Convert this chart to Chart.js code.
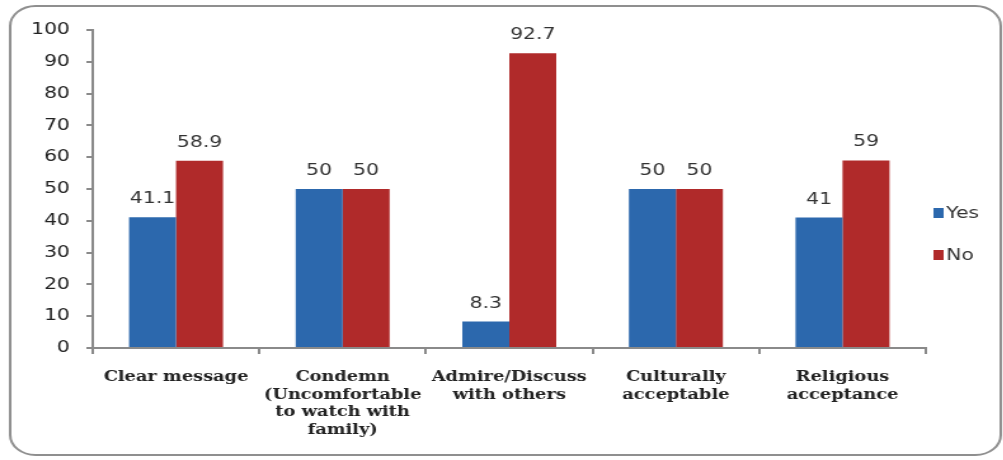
<!DOCTYPE html>
<html>
<head>
<meta charset="utf-8">
<script src="https://cdn.jsdelivr.net/npm/chart.js@4/dist/chart.umd.min.js"></script>
<style>
  html, body { margin: 0; padding: 0; background: #ffffff; }
  #wrap { width: 790px; height: 460px; transform: scaleX(1.27); transform-origin: 0 0; }
  canvas { display: block; }
</style>
</head>
<body>
<div id="wrap"><canvas id="chart" width="790" height="460"></canvas></div>
<script>
// Survey responses (percent) per statement
const categories = [
  'Clear message',
  ['Condemn', '(Uncomfortable', 'to watch with', 'family)'],
  ['Admire/Discuss', 'with others'],
  ['Culturally', 'acceptable'],
  ['Religious', 'acceptance']
];
const seriesNames = ['Yes', 'No'];
const yesValues = [41.1, 50, 8.3, 50, 41];
const noValues = [58.9, 50, 92.7, 50, 59];
const yTicks = [0, 10, 20, 30, 40, 50, 60, 70, 80, 90, 100];

const BLUE = '#2c68ad';
const RED = '#b02a2a';
const AXIS = '#8a8a8a';

// Rounded frame around the whole chart
const framePlugin = {
  id: 'frame',
  beforeDraw(chart) {
    const ctx = chart.ctx;
    ctx.save();
    ctx.fillStyle = '#ffffff';
    ctx.fillRect(0, 0, chart.width, chart.height);
    ctx.strokeStyle = '#8f8f8f';
    ctx.lineWidth = 2;
    ctx.beginPath();
    ctx.roundRect(8, 6, 780, 449, 20);
    ctx.stroke();
    ctx.restore();
  }
};

// Value labels above each bar
const valueLabels = {
  id: 'valueLabels',
  afterDatasetsDraw(chart) {
    const ctx = chart.ctx;
    ctx.save();
    ctx.font = '16px "DejaVu Sans"';
    ctx.fillStyle = '#333333';
    ctx.textAlign = 'center';
    ctx.textBaseline = 'alphabetic';
    chart.data.datasets.forEach((ds, i) => {
      chart.getDatasetMeta(i).data.forEach((bar, j) => {
        ctx.fillText(String(ds.data[j]), bar.x, bar.y - 14);
      });
    });
    ctx.restore();
  }
};

// Legend to the right of the plot
const sideLegend = {
  id: 'sideLegend',
  afterDraw(chart) {
    const ctx = chart.ctx;
    const rows = [213, 255];
    ctx.save();
    ctx.font = '16px "DejaVu Sans"';
    ctx.textBaseline = 'middle';
    ctx.textAlign = 'left';
    chart.data.datasets.forEach((ds, i) => {
      const y = rows[i];
      ctx.fillStyle = ds.backgroundColor;
      ctx.fillRect(735, y - 5, 8, 10);
      ctx.fillStyle = '#333333';
      ctx.fillText(ds.label, 745, y + 1);
    });
    ctx.restore();
  }
};

new Chart(document.getElementById('chart'), {
  type: 'bar',
  data: {
    labels: categories,
    datasets: [
      { label: seriesNames[0], data: yesValues, backgroundColor: BLUE },
      { label: seriesNames[1], data: noValues, backgroundColor: RED }
    ]
  },
  options: {
    responsive: false,
    animation: false,
    devicePixelRatio: 1,
    layout: { padding: { left: 0, right: 61, top: 30, bottom: 0 } },
    datasets: { bar: { barPercentage: 1, categoryPercentage: 0.564 } },
    plugins: { legend: { display: false }, tooltip: { enabled: false } },
    scales: {
      x: {
        afterFit(scale) { scale.height = 112; },
        border: { color: AXIS, width: 2 },
        grid: { drawOnChartArea: false, drawTicks: true, tickLength: 6, color: AXIS, lineWidth: 2, offset: true },
        ticks: {
          padding: 14,
          maxRotation: 0,
          autoSkip: false,
          color: '#222222',
          font: { family: '"DejaVu Serif"', size: 14, weight: 'bold', lineHeight: 1.28 }
        }
      },
      y: {
        min: 0,
        max: 100,
        afterFit(scale) { scale.width = 73; },
        afterBuildTicks(scale) { scale.ticks = yTicks.map(v => ({ value: v })); },
        border: { color: AXIS, width: 2 },
        grid: { drawOnChartArea: false, drawTicks: true, tickLength: 5, color: AXIS, lineWidth: 2 },
        ticks: {
          padding: 13,
          color: '#222222',
          font: { family: '"DejaVu Sans"', size: 16 }
        }
      }
    }
  },
  plugins: [framePlugin, valueLabels, sideLegend]
});
</script>
</body>
</html>
